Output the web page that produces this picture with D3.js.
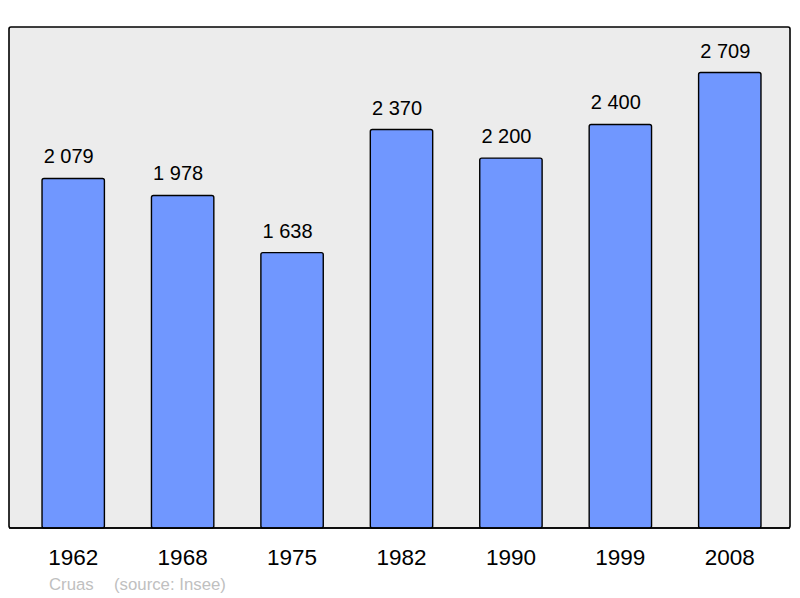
<!DOCTYPE html>
<html lang="fr">
<head>
<meta charset="utf-8">
<title>Cruas population</title>
<style type="text/css">
  body { margin: 0; background: #fff; }
  .val { font-family: "Liberation Sans", Arial, sans-serif; font-size: 20px; fill: #000; }
  .yr { font-family: "Liberation Sans", Arial, sans-serif; font-size: 22.5px; fill: #000; }
  .src { font-family: "Liberation Sans", Arial, sans-serif; font-size: 16.8px; fill: #c0c0c0; }
</style>
<script src="https://cdn.jsdelivr.net/npm/d3@7"></script>
</head>
<body>
<script type="text/javascript">

var years = ['1962','1968','1975','1982','1990','1999','2008'];
var population = [2079, 1978, 1638, 2370, 2200, 2400, 2709];
var valueLabels = ['2 079','1 978','1 638','2 370','2 200','2 400','2 709'];

var w = 800, h = 598;

var svg = d3.select('body').append('svg')
  .attr('width', w)
  .attr('height', h);

// plot frame
var frame = {left: 9, top: 27, right: 790, bottom: 528};

svg.append('rect')
  .attr('x', frame.left).attr('y', frame.top)
  .attr('width', frame.right - frame.left)
  .attr('height', frame.bottom - frame.top)
  .attr('rx', 2).attr('ry', 2)
  .attr('fill', '#ececec')
  .attr('stroke', '#000')
  .attr('stroke-width', 1.6);

var x = d3.scaleBand()
  .domain(years)
  .range([18.5, 784.5])
  .paddingInner(0.43)
  .paddingOuter(0.215);

var y = d3.scaleLinear()
  .domain([0, 2709 * 1.1])
  .range([frame.bottom, frame.top]);

var data = years.map(function(d, i) {
  return {year: d, v: population[i], t: valueLabels[i]};
});

svg.selectAll('rect.bar')
  .data(data)
  .enter()
  .append('rect')
  .attr('class', 'bar')
  .attr('x', function(d) { return x(d.year); })
  .attr('y', function(d) { return y(d.v); })
  .attr('width', x.bandwidth())
  .attr('height', function(d) { return frame.bottom - y(d.v); })
  .attr('rx', 2).attr('ry', 2)
  .attr('fill', '#7097ff')
  .attr('stroke', '#000')
  .attr('stroke-width', 1.4);

// redraw bottom edge of frame on top of bars
svg.append('line')
  .attr('x1', frame.left).attr('x2', frame.right)
  .attr('y1', frame.bottom).attr('y2', frame.bottom)
  .attr('stroke', '#000')
  .attr('stroke-width', 1.6);

// value labels sit a little left of bar centre in the original
svg.selectAll('text.val')
  .data(data)
  .enter()
  .append('text')
  .attr('class', 'val')
  .attr('x', function(d) { return x(d.year) + x.bandwidth() / 2 - 4.5; })
  .attr('y', function(d) { return y(d.v) - 15; })
  .attr('text-anchor', 'middle')
  .text(function(d) { return d.t; });

svg.selectAll('text.yr')
  .data(years)
  .enter()
  .append('text')
  .attr('class', 'yr')
  .attr('x', function(d) { return x(d) + x.bandwidth() / 2; })
  .attr('y', 565)
  .attr('text-anchor', 'middle')
  .text(function(d) { return d; });

svg.append('text').attr('class', 'src')
  .attr('x', 49).attr('y', 590)
  .text('Cruas');
svg.append('text').attr('class', 'src')
  .attr('x', 114).attr('y', 590)
  .text('(source: Insee)');

</script>
</body>
</html>
